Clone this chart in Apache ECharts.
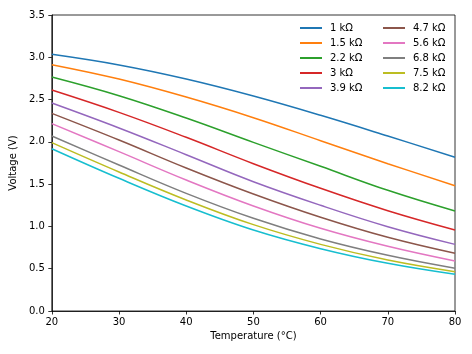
<!DOCTYPE html>
<html>
<head>
<meta charset="utf-8">
<script src="https://cdn.jsdelivr.net/npm/echarts@6/dist/echarts.min.js"></script>
<style>html,body{margin:0;padding:0;background:#fff}#c{width:472px;height:354px}</style>
</head>
<body>
<div id="c"></div>
<script>
const temps = [20, 30, 40, 50, 60, 70, 80];
const names = ['1 kΩ','1.5 kΩ','2.2 kΩ','3 kΩ','3.9 kΩ','4.7 kΩ','5.6 kΩ','6.8 kΩ','7.5 kΩ','8.2 kΩ'];
const v1k   = [3.035, 2.909, 2.743, 2.542, 2.314, 2.069, 1.817];
const v1k5  = [2.913, 2.743, 2.530, 2.286, 2.014, 1.742, 1.482];
const v2k2  = [2.767, 2.546, 2.282, 1.994, 1.711, 1.427, 1.182];
const v3k   = [2.613, 2.349, 2.054, 1.742, 1.451, 1.186, 0.958];
const v3k9  = [2.459, 2.164, 1.848, 1.529, 1.250, 0.997, 0.788];
const v4k7  = [2.337, 2.022, 1.691, 1.383, 1.108, 0.871, 0.682];
const v5k6  = [2.215, 1.884, 1.549, 1.242, 0.978, 0.765, 0.591];
const v6k8  = [2.069, 1.726, 1.391, 1.096, 0.851, 0.658, 0.505];
const v7k5  = [1.991, 1.644, 1.313, 1.021, 0.788, 0.603, 0.465];
const v8k2  = [1.919, 1.569, 1.242, 0.958, 0.737, 0.564, 0.434];
const yTicks = ['0.0','0.5','1.0','1.5','2.0','2.5','3.0','3.5'];
const xTicks = ['20','30','40','50','60','70','80'];

const allSeries = [v1k, v1k5, v2k2, v3k, v3k9, v4k7, v5k6, v6k8, v7k5, v8k2];
const colors = ['#1f77b4','#ff7f0e','#2ca02c','#d62728','#9467bd','#8c564b','#e377c2','#7f7f7f','#bcbd22','#17becf'];
const font = 'DejaVu Sans';

const chart = echarts.init(document.getElementById('c'), null, {renderer: 'canvas'});
const legendBase = {
  orient: 'vertical', top: 22, itemWidth: 22, itemHeight: 2, itemGap: 3,
  icon: 'rect', padding: 0,
  textStyle: {fontFamily: font, fontSize: 10, color: '#000', lineHeight: 12, padding: [0,0,0,3]}
};
chart.setOption({
  animation: false,
  color: colors,
  grid: {left: 49, right: 17, top: 15, bottom: 43, show: true, borderColor: '#000', borderWidth: 0.8, containLabel: false},
  legend: [
    Object.assign({}, legendBase, {left: 300, data: names.slice(0,5)}),
    Object.assign({}, legendBase, {left: 383, data: names.slice(5)})
  ],
  xAxis: {
    type: 'value', min: 20, max: 80, interval: 10,
    name: 'Temperature (°C)', nameLocation: 'middle', nameGap: 20,
    nameTextStyle: {fontFamily: font, fontSize: 10, color: '#000'},
    axisLine: {show: true, lineStyle: {color: '#000', width: 0.8}},
    axisTick: {show: true, length: 3.5, lineStyle: {color: '#000', width: 0.8}},
    axisLabel: {fontFamily: font, fontSize: 10, color: '#000', margin: 6,
      formatter: v => xTicks[temps.indexOf(v)] !== undefined ? xTicks[temps.indexOf(v)] : String(v)},
    splitLine: {show: false}
  },
  yAxis: {
    type: 'value', min: 0, max: 3.5, interval: 0.5,
    name: 'Voltage (V)', nameLocation: 'middle', nameGap: 30,
    nameTextStyle: {fontFamily: font, fontSize: 10, color: '#000'},
    axisLine: {show: true, lineStyle: {color: '#000', width: 0.8}},
    axisTick: {show: true, length: 3.5, lineStyle: {color: '#000', width: 0.8}},
    axisLabel: {fontFamily: font, fontSize: 10, color: '#000', margin: 7,
      formatter: v => yTicks[Math.round(v / 0.5)]},
    splitLine: {show: false}
  },
  series: allSeries.map((vals, i) => ({
    name: names[i], type: 'line', showSymbol: false, smooth: 0.4,
    lineStyle: {width: 1.5, color: colors[i]}, itemStyle: {color: colors[i]},
    data: temps.map((t, j) => [t, vals[j]])
  }))
});
</script>
</body>
</html>
